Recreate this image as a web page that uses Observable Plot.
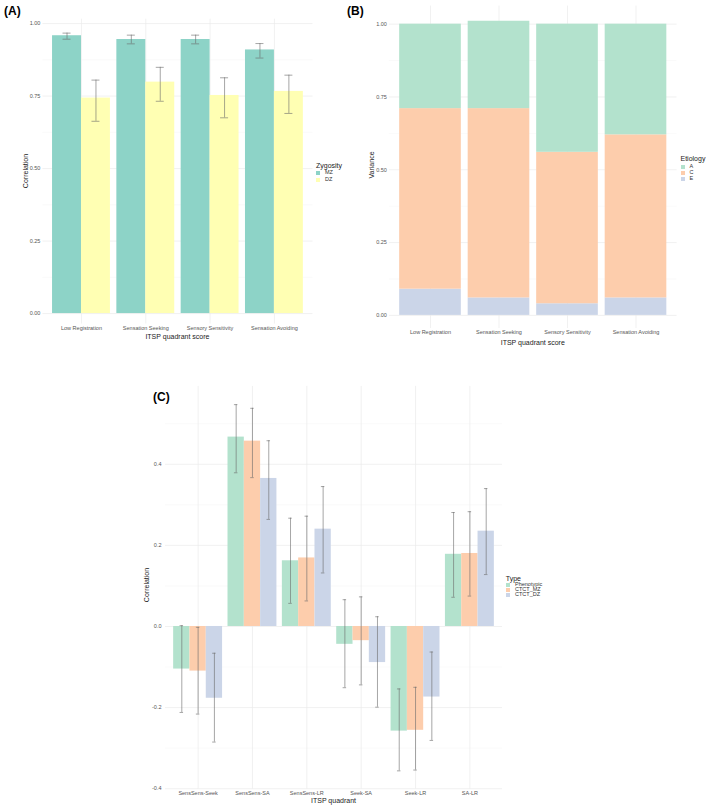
<!DOCTYPE html>
<html><head><meta charset="utf-8">
<script src="https://cdn.jsdelivr.net/npm/d3@7"></script>
<script src="https://cdn.jsdelivr.net/npm/@observablehq/plot@0.6"></script>
<style>
html,body{margin:0;padding:0;background:#fff;}
#fig{position:relative;width:709px;height:806px;overflow:hidden;font-family:"Liberation Sans",Arial,sans-serif;background:#fff;}
.abs{position:absolute;white-space:nowrap;line-height:1;}
.pl{position:absolute;}
</style></head><body><div id="fig"></div>
<script>
// ---------- DATA ----------
// Panel A: twin correlations by zygosity
const quadrants = ["Low Registration", "Sensation Seeking", "Sensory Sensitivity", "Sensation Avoiding"];
const zygosity = ["MZ", "DZ"];
const mzR  = [0.958, 0.945, 0.945, 0.909];
const mzLo = [0.946, 0.930, 0.930, 0.881];
const mzHi = [0.967, 0.960, 0.960, 0.931];
const dzR  = [0.743, 0.798, 0.752, 0.766];
const dzLo = [0.663, 0.732, 0.675, 0.690];
const dzHi = [0.805, 0.849, 0.813, 0.822];
const aTicks = [0, 0.25, 0.5, 0.75, 1];
const aMinor = [0.125, 0.375, 0.625, 0.875];

// Panel B: variance decomposition (stacked E, C, A from bottom)
const etiology = ["A", "C", "E"];
const varE = [0.09, 0.06, 0.04, 0.06];
const varC = [0.62, 0.65, 0.52, 0.56];
const varA = [0.29, 0.30, 0.44, 0.38];
const bTicks = [0, 0.25, 0.5, 0.75, 1];
const bMinor = [0.125, 0.375, 0.625, 0.875];

// Panel C: cross-trait correlations
const pairs = ["SensSens-Seek", "SensSens-SA", "SensSens-LR", "Seek-SA", "Seek-LR", "SA-LR"];
const types = ["Phenotypic", "CTCT_MZ", "CTCT_DZ"];
const phenR  = [-0.105, 0.467, 0.162, -0.044, -0.258, 0.178];
const phenLo = [-0.212, 0.379, 0.057, -0.151, -0.356, 0.072];
const phenHi = [ 0.002, 0.547, 0.267,  0.066, -0.154, 0.281];
const ctmzR  = [-0.110, 0.457, 0.169, -0.035, -0.256, 0.180];
const ctmzLo = [-0.216, 0.367, 0.063, -0.144, -0.354, 0.075];
const ctmzHi = [-0.002, 0.538, 0.272,  0.073, -0.150, 0.283];
const ctdzR  = [-0.177, 0.365, 0.240, -0.089, -0.174, 0.235];
const ctdzLo = [-0.285, 0.264, 0.132, -0.199, -0.281, 0.128];
const ctdzHi = [-0.066, 0.458, 0.345,  0.024, -0.063, 0.340];
const cTicks = [-0.4, -0.2, 0, 0.2, 0.4];
const cMinor = [-0.3, -0.1, 0.1, 0.3, 0.5];

// ---------- STYLE ----------
const FONT = '"Liberation Sans", Arial, sans-serif';
const colZyg = ["#8dd3c7", "#ffffb3"];
const colEti = ["#b3e2cd", "#fdcdac", "#cbd5e8"];
const colType = ["#b3e2cd", "#fdcdac", "#cbd5e8"];
const GRID = "#ebebeb", GRIDMINOR = "#f5f5f5", ERR = "#6a6a6a";
const baseStyle = {fontSize: "5.5px", fontFamily: FONT, color: "#555", background: "transparent", overflow: "visible"};

const fig = document.getElementById("fig");
function bandwidth(domain, left, right) {
  return d3.scaleBand().domain(domain).range([left, right]).paddingInner(0.1).paddingOuter(0.15).bandwidth();
}
function place(svg, left, top) {
  svg.classList.add("pl");
  svg.style.left = left + "px";
  svg.style.top = top + "px";
  fig.appendChild(svg);
}
function text(str, x, y, opt = {}) {
  const d = document.createElement("div");
  d.className = "abs";
  d.textContent = str;
  d.style.left = x + "px";
  d.style.top = y + "px";
  d.style.fontSize = (opt.size || 7) + "px";
  d.style.fontWeight = opt.bold ? "bold" : "normal";
  d.style.color = opt.color || "#1a1a1a";
  let t = "";
  if (opt.anchor === "center") t += "translate(-50%,-50%) ";
  else t += "translate(0,-50%) ";
  if (opt.rotate) t += "rotate(-90deg)";
  d.style.transform = t;
  fig.appendChild(d);
}
function legend(title, labels, colors, x, titleY, keyYs, textX, keySize) {
  text(title, x, titleY, {size: 7, color: "#1a1a1a"});
  labels.forEach((lab, i) => {
    const k = document.createElement("div");
    k.className = "abs";
    k.style.left = x + "px";
    k.style.top = (keyYs[i] - keySize / 2) + "px";
    k.style.width = keySize + "px";
    k.style.height = keySize + "px";
    k.style.background = colors[i];
    fig.appendChild(k);
    text(lab, textX, keyYs[i], {size: 5.5, color: "#333"});
  });
}

// ---------- PANEL A ----------
{
  const W = 354, H = 345, ml = 42.4, mr = 41.5, mt = 18.7, mb = 21.5;
  const bw = bandwidth(quadrants, ml, W - mr);
  const rows = quadrants.map((q, i) => ({q, mz: mzR[i], mzLo: mzLo[i], mzHi: mzHi[i], dz: dzR[i], dzLo: dzLo[i], dzHi: dzHi[i]}));
  const cap = 8, capIn = (bw / 2 - cap) / 2;
  const p = Plot.plot({
    width: W, height: H, marginLeft: ml, marginRight: mr, marginTop: mt, marginBottom: mb,
    style: baseStyle,
    x: {type: "band", domain: quadrants, paddingInner: 0.1, paddingOuter: 0.15, round: false, label: null, tickSize: 0, tickPadding: 2.5},
    y: {domain: [-0.036, 1.015], ticks: aTicks, tickFormat: d => d.toFixed(2), tickSize: 0, tickPadding: 2.5, label: null},
    marks: [
      Plot.ruleY(aMinor, {stroke: GRIDMINOR, strokeWidth: 0.5}),
      Plot.ruleY(aTicks, {stroke: GRID, strokeWidth: 0.7}),
      Plot.ruleX(quadrants, {stroke: GRID, strokeWidth: 0.7}),
      Plot.barY(rows, {x: "q", y: "mz", fill: colZyg[0], insetRight: bw / 2}),
      Plot.barY(rows, {x: "q", y: "dz", fill: colZyg[1], insetLeft: bw / 2}),
      Plot.ruleX(rows, {x: "q", y1: "mzLo", y2: "mzHi", dx: -bw / 4, stroke: ERR, strokeWidth: 0.6}),
      Plot.ruleX(rows, {x: "q", y1: "dzLo", y2: "dzHi", dx: bw / 4, stroke: ERR, strokeWidth: 0.6}),
      Plot.tickY(rows, {x: "q", y: "mzLo", insetLeft: capIn, insetRight: bw / 2 + capIn, stroke: ERR, strokeWidth: 0.6}),
      Plot.tickY(rows, {x: "q", y: "mzHi", insetLeft: capIn, insetRight: bw / 2 + capIn, stroke: ERR, strokeWidth: 0.6}),
      Plot.tickY(rows, {x: "q", y: "dzLo", insetLeft: bw / 2 + capIn, insetRight: capIn, stroke: ERR, strokeWidth: 0.6}),
      Plot.tickY(rows, {x: "q", y: "dzHi", insetLeft: bw / 2 + capIn, insetRight: capIn, stroke: ERR, strokeWidth: 0.6})
    ]
  });
  place(p, 0, 0);
  text("(A)", 4, 11, {size: 12, bold: true, color: "#000"});
  text("Correlation", 25, 171, {anchor: "center", rotate: true});
  text("ITSP quadrant score", (ml + W - mr) / 2, 336, {anchor: "center"});
  legend("Zygosity", zygosity, colZyg, 316, 165.2, [173.2, 179.8], 325, 4);
}

// ---------- PANEL B ----------
{
  const L = 354, W = 355, H = 350, ml = 34.9, mr = 32.4, mt = 5.6, mb = 22;
  const rows = [];
  quadrants.forEach((q, i) => {
    rows.push({q, e: "E", v: varE[i]});
    rows.push({q, e: "C", v: varC[i]});
    rows.push({q, e: "A", v: varA[i]});
  });
  const p = Plot.plot({
    width: W, height: H, marginLeft: ml, marginRight: mr, marginTop: mt, marginBottom: mb,
    style: baseStyle,
    x: {type: "band", domain: quadrants, paddingInner: 0.1, paddingOuter: 0.15, round: false, label: null, tickSize: 0, tickPadding: 2},
    y: {domain: [-0.045, 1.062], ticks: bTicks, tickFormat: d => d.toFixed(2), tickSize: 0, tickPadding: 2.5, label: null},
    color: {domain: etiology, range: colEti},
    marks: [
      Plot.ruleY(bMinor, {stroke: GRIDMINOR, strokeWidth: 0.5}),
      Plot.ruleY(bTicks, {stroke: GRID, strokeWidth: 0.7}),
      Plot.ruleX(quadrants, {stroke: GRID, strokeWidth: 0.7}),
      Plot.barY(rows, {x: "q", y: "v", fill: "e"})
    ]
  });
  place(p, L, 0);
  text("(B)", 347, 11, {size: 12, bold: true, color: "#000"});
  text("Variance", 371, 165, {anchor: "center", rotate: true});
  text("ITSP quadrant score", L + (ml + W - mr) / 2, 342, {anchor: "center"});
  legend("Etiology", etiology, colEti, 680.5, 158.3, [167.2, 173.2, 179], 689.5, 4.6);
}

// ---------- PANEL C ----------
{
  const L = 140, T = 375, W = 420, H = 431, ml = 25, mr = 58, mt = 10.9, mb = 17.4;
  const bw = bandwidth(pairs, ml, W - mr);
  const third = bw / 3, cap = 3.5, capIn = (third - cap) / 2;
  const rows = pairs.map((g, i) => ({g,
    p: phenR[i], pLo: phenLo[i], pHi: phenHi[i],
    m: ctmzR[i], mLo: ctmzLo[i], mHi: ctmzHi[i],
    d: ctdzR[i], dLo: ctdzLo[i], dHi: ctdzHi[i]}));
  const sets = [["p", "pLo", "pHi"], ["m", "mLo", "mHi"], ["d", "dLo", "dHi"]];
  const marks = [
    Plot.ruleY(cMinor, {stroke: GRIDMINOR, strokeWidth: 0.5}),
    Plot.ruleY(cTicks, {stroke: GRID, strokeWidth: 0.7}),
    Plot.ruleX(pairs, {stroke: GRID, strokeWidth: 0.7})
  ];
  sets.forEach(([v], k) => {
    marks.push(Plot.barY(rows, {x: "g", y: v, fill: colType[k], insetLeft: k * third, insetRight: (2 - k) * third}));
  });
  sets.forEach(([v, lo, hi], k) => {
    const dx = (k - 1) * third;
    marks.push(Plot.ruleX(rows, {x: "g", y1: lo, y2: hi, dx, stroke: ERR, strokeWidth: 0.6}));
    marks.push(Plot.tickY(rows, {x: "g", y: lo, insetLeft: k * third + capIn, insetRight: (2 - k) * third + capIn, stroke: ERR, strokeWidth: 0.6}));
    marks.push(Plot.tickY(rows, {x: "g", y: hi, insetLeft: k * third + capIn, insetRight: (2 - k) * third + capIn, stroke: ERR, strokeWidth: 0.6}));
  });
  const p = Plot.plot({
    width: W, height: H, marginLeft: ml, marginRight: mr, marginTop: mt, marginBottom: mb,
    style: baseStyle,
    x: {type: "band", domain: pairs, paddingInner: 0.1, paddingOuter: 0.15, round: false, label: null, tickSize: 0, tickPadding: 1.5},
    y: {domain: [-0.401, 0.592], ticks: cTicks, tickFormat: d => d.toFixed(1), tickSize: 0, tickPadding: 4, label: null},
    marks
  });
  place(p, L, T);
  text("(C)", 153, 397, {size: 12, bold: true, color: "#000"});
  text("Correlation", 146, 585, {anchor: "center", rotate: true});
  text("ITSP quadrant", L + (ml + W - mr) / 2, 800, {anchor: "center"});
  legend("Type", types, colType, 505.8, 577.8, [585.3, 590, 594.8], 515, 4.4);
}
</script>
</body></html>
